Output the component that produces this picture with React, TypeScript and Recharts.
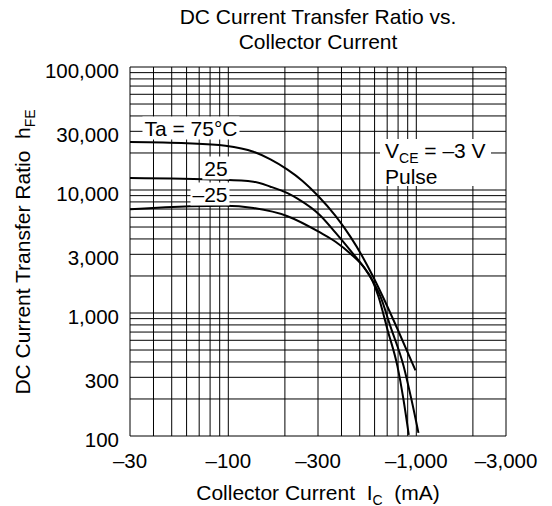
import React from 'react';
import { LineChart, Line, XAxis, YAxis, ReferenceLine } from 'recharts';

const FONT = '"Liberation Sans", Arial, Helvetica, sans-serif';
const FS = 21;
const TICK_FS = 20.5;

const titleLines = ['DC Current Transfer Ratio vs.', 'Collector Current'];

const xTicks = [30, 100, 300, 1000, 3000];
const yTicks = [100, 300, 1000, 3000, 10000, 30000, 100000];
const xGrid = [30, 40, 50, 60, 70, 80, 90, 100, 200, 300, 400, 500, 600, 700, 800, 900, 1000, 2000, 3000];
const yGrid = [
  100, 200, 300, 400, 500, 600, 700, 800, 900,
  1000, 2000, 3000, 4000, 5000, 6000, 7000, 8000, 9000,
  10000, 20000, 30000, 40000, 50000, 60000, 70000, 80000, 90000, 100000,
];

// Ta = 75 °C
const ic75 = [30, 60, 96.5, 136, 167.6, 206.5, 248.2, 298, 371.8, 446.8, 523.7, 585, 661, 794, 990];
const hfe75 = [24550, 24010, 22900, 20480, 17740, 14650, 11860, 9073, 6159, 4156, 2779, 2018, 1375, 741, 341];
// Ta = 25 °C
const ic25 = [30, 90.9, 136, 167.6, 206.5, 233.4, 309.3, 371.8, 446.8, 523.7, 585, 645, 729, 855, 943, 1027];
const hfe25 = [12520, 12130, 11680, 10640, 9419, 8500, 6182, 4495, 3210, 2379, 1830, 1357, 774, 373, 197, 106];
// Ta = -25 °C
const icM25 = [30, 62.9, 96.5, 136, 206.5, 309.3, 371.8, 446.8, 523.7, 585, 629.4, 702.7, 794, 855, 912];
const hfeM25 = [6981, 7385, 7455, 7140, 6124, 4495, 3799, 3035, 2379, 1830, 1357, 731, 368, 197, 102];

const toSeries = (ic: number[], h: number[]) => ic.map((v, i) => ({ ic: v, h: h[i] }));
const s75 = toSeries(ic75, hfe75);
const s25 = toSeries(ic25, hfe25);
const sM25 = toSeries(icM25, hfeM25);

const fmtX = (v: number) => '\u2013' + v.toLocaleString('en-US');
const fmtY = (v: number) => v.toLocaleString('en-US');

const XTick = (props: any) => {
  const { x, y, payload } = props;
  return (
    <text x={x} y={y + 32} textAnchor="middle" fontSize={TICK_FS} fontFamily={FONT} fill="#000">
      {fmtX(payload.value)}
    </text>
  );
};

const YTick = (props: any) => {
  const { x, y, payload } = props;
  return (
    <text x={x - 11} y={y + 10.5} textAnchor="end" fontSize={TICK_FS} fontFamily={FONT} fill="#000">
      {fmtY(payload.value)}
    </text>
  );
};

const textBase: React.CSSProperties = {
  position: 'absolute',
  fontFamily: FONT,
  fontSize: FS,
  color: '#000',
  whiteSpace: 'pre',
  lineHeight: 1,
};

const boxed: React.CSSProperties = {
  ...textBase,
  background: '#fff',
  padding: '1px 2px',
  transform: 'translate(-50%, -50%)',
};

const sub: React.CSSProperties = { fontSize: 14, position: 'relative', top: 5 };

export default function App() {
  return (
    <div style={{ position: 'absolute', left: 0, top: 0, width: 552, height: 506, background: '#fff' }}>
      <LineChart width={552} height={506} margin={{ top: 67, right: 46, bottom: 40, left: 0 }}>
        <XAxis
          type="number"
          dataKey="ic"
          scale="log"
          domain={[30, 3000]}
          ticks={xTicks}
          allowDataOverflow
          height={30}
          axisLine={false}
          tickLine={false}
          tickSize={0}
          tickMargin={0}
          tick={XTick}
          interval={0}
        />
        <YAxis
          type="number"
          dataKey="h"
          scale="log"
          domain={[100, 100000]}
          ticks={yTicks}
          allowDataOverflow
          width={130}
          axisLine={false}
          tickLine={false}
          tickSize={0}
          tickMargin={0}
          tick={YTick}
          interval={0}
        />
        {xGrid.map((v) => (
          <ReferenceLine key={'x' + v} x={v} stroke="#000" strokeWidth={1} ifOverflow="visible" />
        ))}
        {yGrid.map((v) => (
          <ReferenceLine key={'y' + v} y={v} stroke="#000" strokeWidth={1} ifOverflow="visible" />
        ))}
        <Line data={s75} dataKey="h" type="monotone" stroke="#000" strokeWidth={2} dot={false} isAnimationActive={false} />
        <Line data={s25} dataKey="h" type="monotone" stroke="#000" strokeWidth={2} dot={false} isAnimationActive={false} />
        <Line data={sM25} dataKey="h" type="monotone" stroke="#000" strokeWidth={2} dot={false} isAnimationActive={false} />
      </LineChart>

      {/* title */}
      <div style={{ ...textBase, left: 318, top: 16, transform: 'translate(-50%, -50%)' }}>{titleLines[0]}</div>
      <div style={{ ...textBase, left: 318, top: 41, transform: 'translate(-50%, -50%)' }}>{titleLines[1]}</div>

      {/* y axis label */}
      <div style={{ ...textBase, left: 22, top: 252, transform: 'translate(-50%, -50%) rotate(-90deg)' }}>
        {'DC Current Transfer Ratio  h'}
        <span style={sub}>FE</span>
      </div>

      {/* x axis label */}
      <div style={{ ...textBase, left: 318, top: 492, transform: 'translate(-50%, -50%)' }}>
        {'Collector Current  I'}
        <span style={sub}>C</span>
        {'  (mA)'}
      </div>

      {/* annotations */}
      <div style={{ ...boxed, left: 191, top: 128 }}>{'Ta = 75\u00b0C'}</div>
      <div style={{ ...boxed, left: 216, top: 168 }}>{'25'}</div>
      <div style={{ ...boxed, left: 210, top: 194 }}>{'\u201325'}</div>
      <div style={{ ...textBase, left: 380, top: 139, width: 111, height: 47, background: '#fff', lineHeight: '24px', paddingLeft: 5, boxSizing: 'border-box' }}>
        <div>
          {'V'}
          <span style={sub}>CE</span>
          {' = \u20133 V'}
        </div>
        <div>Pulse</div>
      </div>
    </div>
  );
}
